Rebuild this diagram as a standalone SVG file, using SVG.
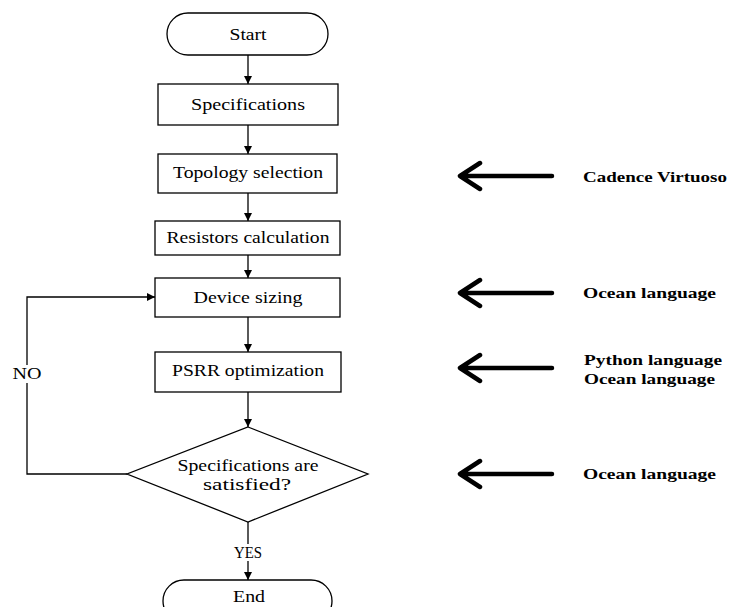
<svg xmlns="http://www.w3.org/2000/svg" width="734" height="607" viewBox="0 0 734 607">
  <style>
    .box { fill: #fff; stroke: #000; stroke-width: 1.3; }
    .flow { fill: none; stroke: #000; stroke-width: 1.3; }
    text { font-family: 'Liberation Serif', 'DejaVu Serif', serif; fill: #000; }
    .t { font-size: 17px; text-anchor: middle; }
    .tool { font-size: 15.5px; font-weight: bold; }
    .big { fill: none; stroke: #000; stroke-width: 4.5; stroke-linecap: round; stroke-linejoin: round; }
  </style>
  <defs>
    <marker id="ah" viewBox="0 0 10 10" refX="10" refY="5" markerWidth="8" markerHeight="8" markerUnits="userSpaceOnUse" orient="auto">
      <path d="M0,0 L10,5 L0,10 z" fill="#000"/>
    </marker>
  </defs>

  <!-- connectors -->
  <g id="connectors">
    <line class="flow" x1="248" y1="55" x2="248" y2="84" marker-end="url(#ah)"/>
    <line class="flow" x1="248" y1="125" x2="248" y2="154" marker-end="url(#ah)"/>
    <line class="flow" x1="248" y1="193" x2="248" y2="221" marker-end="url(#ah)"/>
    <line class="flow" x1="248" y1="255" x2="248" y2="278" marker-end="url(#ah)"/>
    <line class="flow" x1="248" y1="317" x2="248" y2="352" marker-end="url(#ah)"/>
    <line class="flow" x1="248" y1="392" x2="248" y2="427" marker-end="url(#ah)"/>
    <line class="flow" x1="248" y1="522" x2="248" y2="580" marker-end="url(#ah)"/>
    <polyline class="flow" points="127,474 27,474 27,297 155,297" marker-end="url(#ah)"/>
    <rect x="10" y="365" width="36" height="18" fill="#fff"/>
    <text class="t" x="27" y="379" textLength="29" lengthAdjust="spacingAndGlyphs">NO</text>
    <rect x="234" y="544" width="28" height="17" fill="#fff"/>
    <text class="t" x="248" y="558" textLength="28" lengthAdjust="spacingAndGlyphs">YES</text>
  </g>

  <g id="start">
    <rect class="box" x="167" y="13" width="161" height="42" rx="21" ry="21"/>
    <text class="t" x="248" y="40" textLength="37" lengthAdjust="spacingAndGlyphs">Start</text>
  </g>

  <g id="specifications">
    <rect class="box" x="158" y="84" width="180" height="41"/>
    <text class="t" x="248" y="110" textLength="114" lengthAdjust="spacingAndGlyphs">Specifications</text>
  </g>

  <g id="topology">
    <rect class="box" x="158" y="154" width="179" height="39"/>
    <text class="t" x="248" y="178" textLength="150" lengthAdjust="spacingAndGlyphs">Topology selection</text>
  </g>

  <g id="resistors">
    <rect class="box" x="155" y="221" width="185" height="34"/>
    <text class="t" x="248" y="243" textLength="163" lengthAdjust="spacingAndGlyphs">Resistors calculation</text>
  </g>

  <g id="device-sizing">
    <rect class="box" x="155" y="278" width="185" height="39"/>
    <text class="t" x="248" y="303" textLength="109" lengthAdjust="spacingAndGlyphs">Device sizing</text>
  </g>

  <g id="psrr">
    <rect class="box" x="155" y="352" width="186" height="40"/>
    <text class="t" x="248" y="376" textLength="152" lengthAdjust="spacingAndGlyphs">PSRR optimization</text>
  </g>

  <g id="check">
    <polygon class="box" points="248,427 368,474 248,522 127,474"/>
    <text class="t" x="248" y="471" textLength="141" lengthAdjust="spacingAndGlyphs">Specifications are</text>
    <text class="t" x="247" y="490" textLength="88" lengthAdjust="spacingAndGlyphs">satisfied?</text>
  </g>

  <g id="end">
    <rect class="box" x="163" y="580" width="169" height="42" rx="21" ry="21"/>
    <text class="t" x="249" y="602" textLength="32" lengthAdjust="spacingAndGlyphs">End</text>
  </g>

  <!-- tool annotations -->
  <g id="tool-cadence">
    <path class="big" d="M552,176 H460 M480,163 L460,176 L480,189"/>
    <text class="tool" x="583" y="182" textLength="144" lengthAdjust="spacingAndGlyphs">Cadence Virtuoso</text>
  </g>
  <g id="tool-ocean-1">
    <path class="big" d="M552,293 H460 M480,280 L460,293 L480,306"/>
    <text class="tool" x="583" y="298" textLength="133" lengthAdjust="spacingAndGlyphs">Ocean language</text>
  </g>
  <g id="tool-python">
    <path class="big" d="M552,368 H460 M480,355 L460,368 L480,381"/>
    <text class="tool" x="584" y="365" textLength="138" lengthAdjust="spacingAndGlyphs">Python language</text>
    <text class="tool" x="584" y="384" textLength="131" lengthAdjust="spacingAndGlyphs">Ocean language</text>
  </g>
  <g id="tool-ocean-2">
    <path class="big" d="M552,474 H460 M480,461 L460,474 L480,487"/>
    <text class="tool" x="583" y="479" textLength="133" lengthAdjust="spacingAndGlyphs">Ocean language</text>
  </g>
</svg>
